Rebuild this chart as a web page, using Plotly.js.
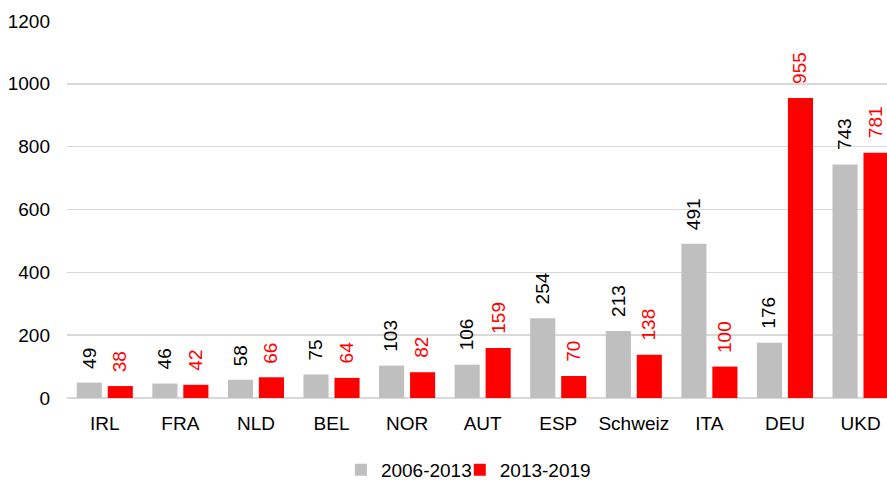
<!DOCTYPE html>
<html>
<head>
<meta charset="utf-8">
<script src="https://cdn.plot.ly/plotly-3.0.1.min.js"></script>
<style>html,body{margin:0;padding:0;background:#fff;}#chart{width:887px;height:484px;}</style>
</head>
<body>
<div id="chart"></div>
<script>
const categories = ['IRL','FRA','NLD','BEL','NOR','AUT','ESP','Schweiz','ITA','DEU','UKD'];
const series1Name = '2006-2013';
const series2Name = '2013-2019';
const series1 = [49,46,58,75,103,106,254,213,491,176,743];
const series2 = [38,42,66,64,82,159,70,138,100,955,781];
const yTicks = [0,200,400,600,800,1000,1200];

const FONT = '"Liberation Sans Narrow", "Arial Narrow", "Liberation Sans", Arial, sans-serif';
const GRAY = '#bfbfbf';
const RED = '#ff0000';

const traces = [
  {type:'bar', name:series1Name, x:categories, y:series1, marker:{color:GRAY}, hoverinfo:'none', legend:'legend'},
  {type:'bar', name:series2Name, x:categories, y:series2, marker:{color:RED}, hoverinfo:'none', legend:'legend2'}
];

const annotations = [];
categories.forEach((c,i)=>{
  annotations.push({x:c, y:series1[i], xref:'x', yref:'y', text:String(series1[i]), textangle:-90,
    showarrow:false, xanchor:'center', yanchor:'bottom', xshift:-16, yshift:12,
    font:{family:FONT, size:19, color:'#000000'}});
  annotations.push({x:c, y:series2[i], xref:'x', yref:'y', text:String(series2[i]), textangle:-90,
    showarrow:false, xanchor:'center', yanchor:'bottom', xshift:15, yshift:12,
    font:{family:FONT, size:19, color:RED}});
});

const legendBase = {orientation:'h', y:-0.14, yanchor:'top', xanchor:'left', font:{family:FONT, size:19, color:'#000'},
  itemwidth:30, tracegroupgap:0, bgcolor:'rgba(0,0,0,0)'};

const layout = {
  width:887, height:484,
  margin:{l:67, r:0, t:21, b:86, autoexpand:false},
  paper_bgcolor:'#ffffff', plot_bgcolor:'#ffffff',
  font:{family:FONT, size:19, color:'#000000'},
  barmode:'group', bargap:0.18, bargroupgap:0.19,
  showlegend:true,
  legend:Object.assign({}, legendBase, {x:0.334}),
  legend2:Object.assign({}, legendBase, {x:0.479}),
  xaxis:{type:'category', range:[-0.5,10.35], showgrid:false, zeroline:false, showline:false, ticks:'', ticklabelstandoff:12,
    tickfont:{family:FONT, size:19, color:'#000'}, fixedrange:true, automargin:false},
  yaxis:{range:[0,1200], tickvals:yTicks, ticktext:yTicks.map(String), showgrid:true, gridcolor:'#d9d9d9', gridwidth:1.5,
    zeroline:true, zerolinecolor:'#d9d9d9', zerolinewidth:2.5, showline:false, ticks:'', ticklabelstandoff:16,
    tickfont:{family:FONT, size:19, color:'#000'}, fixedrange:true, automargin:false},
  annotations:annotations
};

Plotly.newPlot('chart', traces, layout, {displayModeBar:false, staticPlot:true});
</script>
</body>
</html>
